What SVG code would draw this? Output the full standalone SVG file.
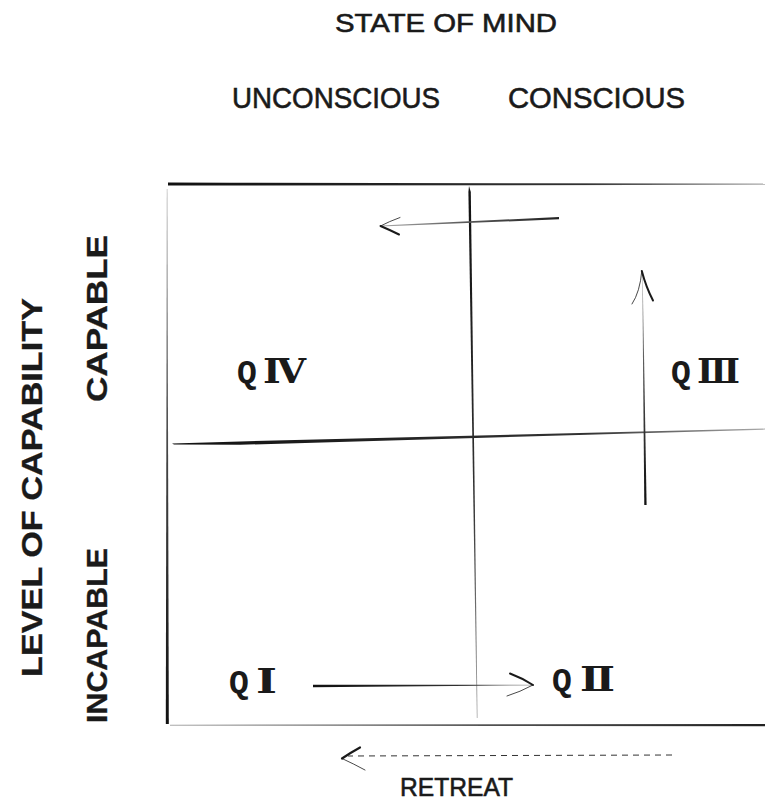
<svg xmlns="http://www.w3.org/2000/svg" width="765" height="801" viewBox="0 0 765 801">
<defs>
<style>
.lbl{font-family:"Liberation Sans",Arial,sans-serif;fill:#1a1a1a;stroke:#1a1a1a;stroke-width:0.6;}
.top{font-size:26px;}
.mid{font-size:30px;}
.vert{font-size:30px;font-weight:bold;stroke-width:0.3;}
.q{font-family:"Liberation Mono","DejaVu Sans Mono",monospace;font-weight:bold;font-size:33px;fill:#1a1a1a;}
.rn{font-family:"DejaVu Serif","Liberation Serif",serif;font-weight:bold;font-size:33px;}
.arm{fill:none;stroke:#1a1a1a;stroke-linecap:round;}
</style>
<linearGradient id="gH" gradientUnits="objectBoundingBox" x1="0" y1="0" x2="1" y2="0">
<stop offset="0" stop-color="#111"/><stop offset="0.7" stop-color="#333"/><stop offset="1" stop-color="#aaa"/>
</linearGradient>
<linearGradient id="gHr" gradientUnits="objectBoundingBox" x1="0" y1="0" x2="1" y2="0">
<stop offset="0" stop-color="#aaa"/><stop offset="0.5" stop-color="#555"/><stop offset="1" stop-color="#222"/>
</linearGradient>
<linearGradient id="gV" gradientUnits="objectBoundingBox" x1="0" y1="0" x2="0" y2="1">
<stop offset="0" stop-color="#111"/><stop offset="0.6" stop-color="#333"/><stop offset="1" stop-color="#aaa"/>
</linearGradient>
<linearGradient id="gVr" gradientUnits="objectBoundingBox" x1="0" y1="0" x2="0" y2="1">
<stop offset="0" stop-color="#aaa"/><stop offset="0.5" stop-color="#444"/><stop offset="1" stop-color="#111"/>
</linearGradient>
</defs>
<rect width="765" height="801" fill="#fff"/>

<g id="grid">
<polygon points="168,182.6 230,182.7 765,183.6 765,184.8 230,185.6 168,185.6" fill="url(#gH)"/>
<polygon points="166.8,189 167.4,189 168.8,724 165.8,724" fill="url(#gVr)"/>
<polygon points="170,724.7 765,723.9 765,726.3 170,725.7" fill="url(#gHr)"/>
<polygon points="469,186 470.8,192 477.6,718 476.8,718 468.4,192" fill="url(#gV)"/>
<polygon points="172,443.4 240,441.4 765,428.6 765,429.6 240,444.8 174,444.6" fill="url(#gH)"/>
</g>

<g id="connectors">
<g id="arrow-top">
<polygon points="559,216.9 559,219.3 381,226.6 381,225.6" fill="url(#gHr)"/>
<path class="arm" d="M400,217.5 Q389,221.5 380.5,226" stroke-width="0.8"/>
<path class="arm" d="M380.5,226 Q390,230 399,234.5" stroke-width="2"/>
</g>
<g id="arrow-up">
<polygon points="644.3,505 646.6,505 642.6,272 642.2,272" fill="url(#gVr)"/>
<path class="arm" d="M632,304 Q640,292 641.8,271" stroke-width="0.8"/>
<path class="arm" d="M641.8,271 Q646,287 653,300.5" stroke-width="2"/>
</g>
<g id="arrow-right">
<polygon points="313,684.8 313,687.3 533,685.4 533,684.8" fill="url(#gH)"/>
<path class="arm" d="M510,673.5 Q522,678 533,685" stroke-width="2"/>
<path class="arm" d="M533,685 Q520,692 507,696" stroke-width="0.8"/>
</g>
<g id="arrow-retreat">
<line x1="672" y1="755" x2="348" y2="756" stroke="#333" stroke-width="1" stroke-dasharray="6 5"/>
<path class="arm" d="M360,747.5 Q350,753 342,758.5" stroke-width="2.2"/>
<path class="arm" d="M342,758.5 Q354,764 365,770" stroke-width="0.8"/>
</g>
</g>

<g id="title-state"><text class="lbl top" x="335" y="32" textLength="222" lengthAdjust="spacingAndGlyphs">STATE OF MIND</text></g>
<g id="label-unconscious"><text class="lbl mid" x="232" y="108" textLength="208" lengthAdjust="spacingAndGlyphs">UNCONSCIOUS</text></g>
<g id="label-conscious"><text class="lbl mid" x="508" y="108" textLength="177" lengthAdjust="spacingAndGlyphs">CONSCIOUS</text></g>

<g id="title-capability"><text class="lbl vert" transform="translate(42,677) rotate(-90)" textLength="379" lengthAdjust="spacingAndGlyphs">LEVEL OF CAPABILITY</text></g>
<g id="label-capable"><text class="lbl vert" transform="translate(107,402) rotate(-90)" textLength="167" lengthAdjust="spacingAndGlyphs">CAPABLE</text></g>
<g id="label-incapable"><text class="lbl vert" transform="translate(107,723) rotate(-90)" textLength="175" lengthAdjust="spacingAndGlyphs">INCAPABLE</text></g>

<g id="q4"><text class="q" x="237" y="383">Q</text><text class="q rn" x="263" y="383" textLength="43" lengthAdjust="spacingAndGlyphs">Ⅳ</text></g>
<g id="q3"><text class="q" x="671" y="383">Q</text><text class="q rn" x="697" y="383" textLength="43" lengthAdjust="spacingAndGlyphs">Ⅲ</text></g>
<g id="q1"><text class="q" x="229" y="693">Q</text><text class="q rn" x="256" y="693" textLength="21" lengthAdjust="spacingAndGlyphs">Ⅰ</text></g>
<g id="q2"><text class="q" x="552" y="691">Q</text><text class="q rn" x="580" y="691" textLength="35" lengthAdjust="spacingAndGlyphs">Ⅱ</text></g>

<g id="label-retreat"><text class="lbl top" x="400" y="796" textLength="113" lengthAdjust="spacingAndGlyphs">RETREAT</text></g>
</svg>
